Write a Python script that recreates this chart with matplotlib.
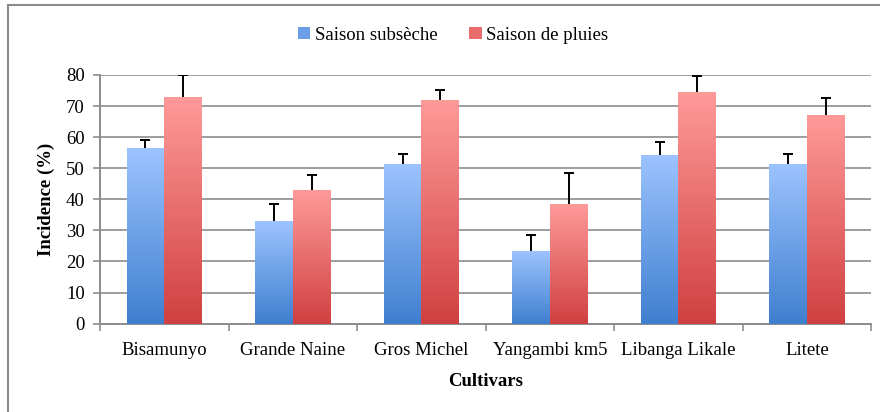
import numpy as np
import matplotlib
matplotlib.use('Agg')
import matplotlib.pyplot as plt
from matplotlib.colors import LinearSegmentedColormap
from matplotlib.patches import Patch
from matplotlib.lines import Line2D

# Donnees
cultivars = ['Bisamunyo', 'Grande Naine', 'Gros Michel', 'Yangambi km5', 'Libanga Likale', 'Litete']
subseche = [56.4, 33.1, 51.3, 23.4, 54.2, 51.3]
subseche_err = [2.6, 5.3, 3.4, 5.1, 4.1, 3.4]
pluies = [72.8, 43.1, 71.9, 38.4, 74.5, 67.1]
pluies_err = [7.2, 4.6, 3.3, 9.9, 5.2, 5.6]

plt.rcParams['font.family'] = ['Liberation Serif', 'DejaVu Serif']
grey = '#8c8c8c'
fs = 13.5

fig = plt.figure(figsize=(8.8, 4.12), dpi=100)
ax = fig.add_axes([0.1136, 0.2146, 0.8764, 0.6034])

x = np.arange(len(cultivars))
w = 0.292
b1 = ax.bar(x - w / 2, subseche, w, color='none', zorder=3)
b2 = ax.bar(x + w / 2, pluies, w, color='none', zorder=3)

cm_blue = LinearSegmentedColormap.from_list('b', ['#3f7fcf', '#9cc3ff'])
cm_red = LinearSegmentedColormap.from_list('r', ['#d04040', '#ff9a9a'])
grad = np.linspace(0, 1, 256).reshape(-1, 1)
for bars, cm in ((b1, cm_blue), (b2, cm_red)):
    for p in bars:
        x0, w0, h0 = p.get_x(), p.get_width(), p.get_height()
        ax.imshow(grad, cmap=cm, origin='lower', aspect='auto',
                  extent=(x0, x0 + w0, 0, h0), zorder=3)

# barres d'erreur (seulement vers le haut)
for xs, vals, errs in ((x - w / 2, subseche, subseche_err), (x + w / 2, pluies, pluies_err)):
    vals = np.array(vals)
    errs = np.array(errs)
    ax.vlines(xs, vals, vals + errs, color='black', linewidth=1.4, zorder=4)
    ax.plot(xs, vals + errs, linestyle='none', marker='_', markersize=7,
            markeredgewidth=1.4, color='black', zorder=4)

ax.set_xlim(-0.5, len(x) - 0.5)
ax.set_ylim(0, 80)
ax.set_yticks(range(0, 81, 10))
ax.yaxis.grid(True, color=grey, linewidth=1.2, zorder=0)
ax.set_axisbelow(True)

ax.set_xticks(np.arange(-0.5, len(x)), minor=False)
ax.set_xticklabels([])
ax.set_xticks(x, minor=True)
ax.set_xticklabels(cultivars, minor=True)
ax.tick_params(axis='x', which='major', length=5, color=grey, width=1.2)
ax.tick_params(axis='x', which='minor', length=0, labelsize=fs, pad=13)
ax.tick_params(axis='y', length=5, color=grey, width=1.2, labelsize=fs, pad=6)

for s in ('top', 'right'):
    ax.spines[s].set_visible(False)
for s in ('left', 'bottom'):
    ax.spines[s].set_color(grey)
    ax.spines[s].set_linewidth(1.4)

ax.set_ylabel('Incidence (%)', fontsize=fs, fontweight='bold', labelpad=8)
ax.set_xlabel('Cultivars', fontsize=fs, fontweight='bold', labelpad=10)

handles = [Patch(facecolor='#6a9ee6', edgecolor='none'),
           Patch(facecolor='#e86c6c', edgecolor='none')]
fig.legend(handles, ['Saison subsèche', 'Saison de pluies'], loc='center',
           bbox_to_anchor=(0.515, 0.915), ncol=2, frameon=False, fontsize=fs,
           handlelength=0.65, handleheight=0.65, handletextpad=0.25, columnspacing=1.7)

# cadre du graphique
fig.add_artist(Line2D([0.0095, 0.0095], [0, 0.987], color=grey, linewidth=1.5))
fig.add_artist(Line2D([0.0095, 1.0], [0.987, 0.987], color=grey, linewidth=1.5))

plt.savefig('out.png', dpi=100)
